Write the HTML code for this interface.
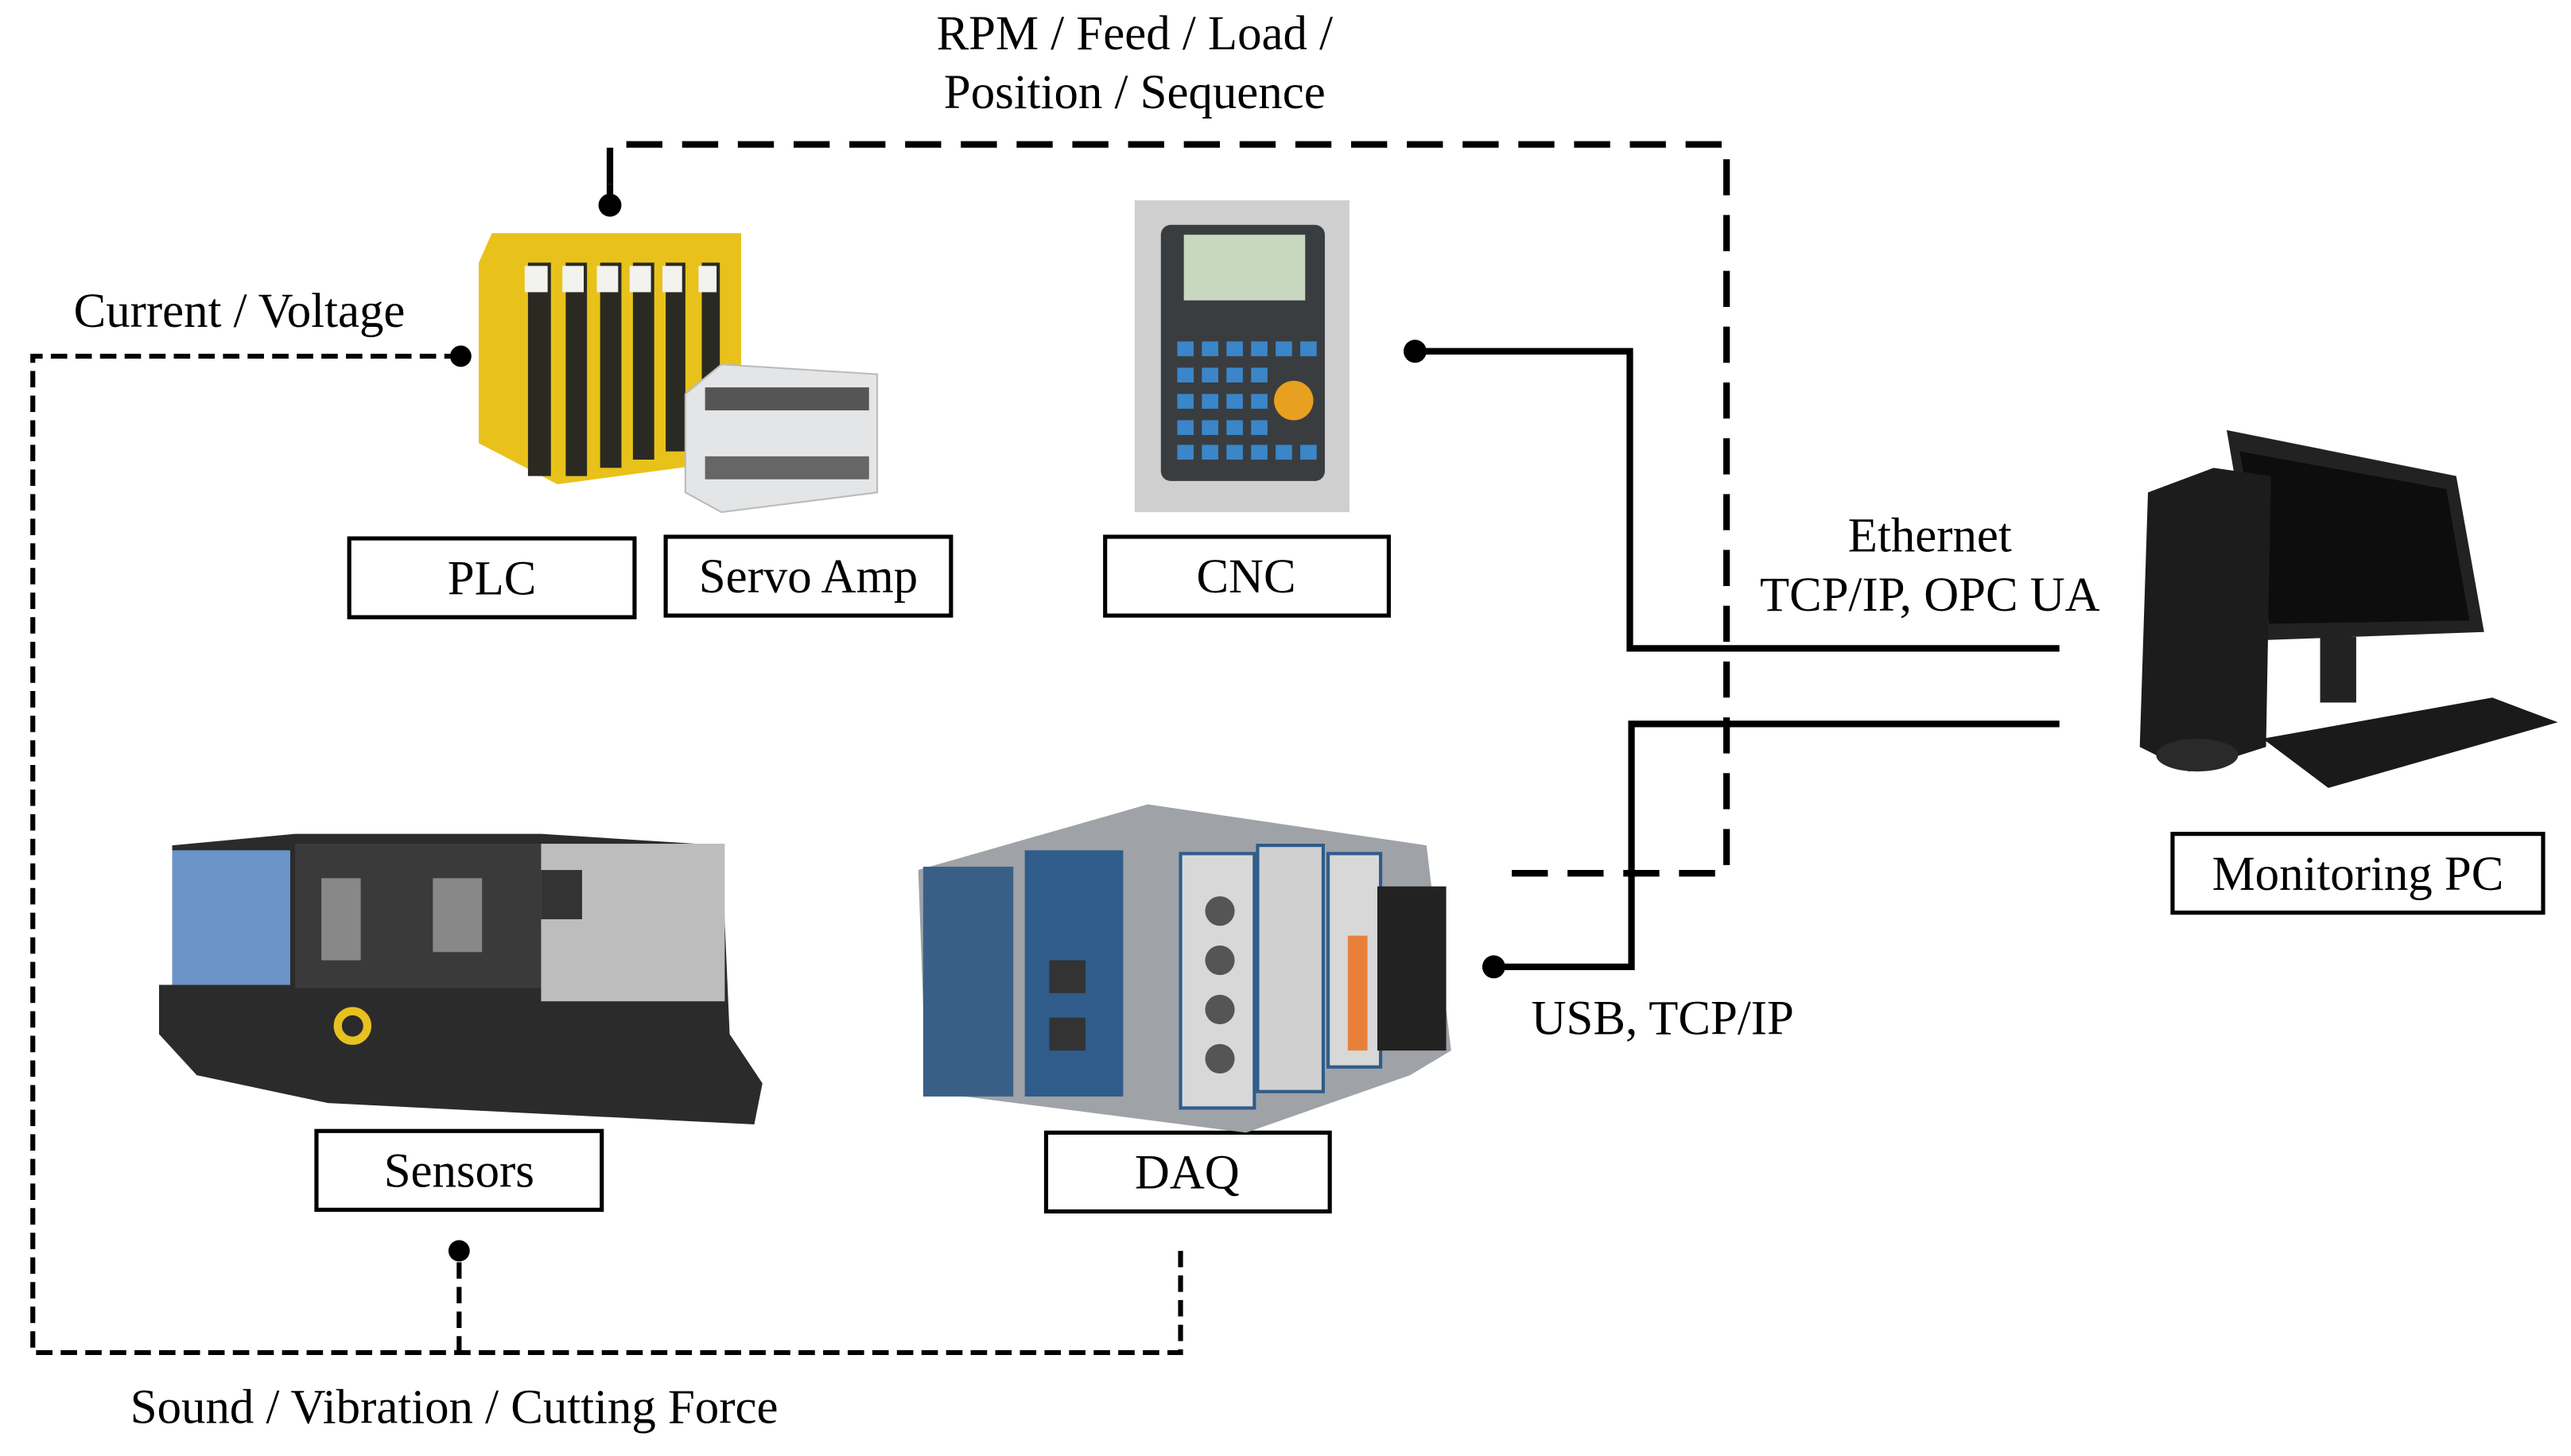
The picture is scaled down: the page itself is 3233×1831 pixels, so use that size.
<!DOCTYPE html>
<html><head><meta charset="utf-8"><style>
html,body{margin:0;padding:0;background:#fff;}
svg{display:block}
text{font-family:"Liberation Serif",serif;fill:#000}
</style></head><body>
<svg width="3233" height="1831" viewBox="0 0 1568 887" preserveAspectRatio="none" xmlns="http://www.w3.org/2000/svg">
<rect width="1568" height="887" fill="#fff"/>
<text x="692" y="30" font-size="29.5" text-anchor="middle">RPM / Feed / Load /</text>
<text x="692" y="66" font-size="29.5" text-anchor="middle">Position / Sequence</text>
<text x="146" y="199" font-size="29.5" text-anchor="middle">Current / Voltage</text>
<text x="277" y="867" font-size="29.5" text-anchor="middle">Sound / Vibration / Cutting Force</text>
<text x="1177" y="336" font-size="29.5" text-anchor="middle">Ethernet</text>
<text x="1177" y="372" font-size="29.5" text-anchor="middle">TCP/IP, OPC UA</text>
<text x="1014" y="630" font-size="29.5" text-anchor="middle">USB, TCP/IP</text>

<path d="M372 112 V88 H1053 V532 H918" fill="none" stroke="#000" stroke-width="4" stroke-dasharray="22 12"/>
<circle cx="372" cy="125" r="7"/>
<line x1="372" y1="112" x2="372" y2="125" stroke="#000" stroke-width="4"/>
<path d="M281 217 H20 V824 H720 V762" fill="none" stroke="#000" stroke-width="3" stroke-dasharray="10 5"/>
<path d="M280 824 V762" fill="none" stroke="#000" stroke-width="3" stroke-dasharray="10 5"/>
<circle cx="281" cy="217" r="6.5"/>
<circle cx="280" cy="762" r="6.5"/>
<path d="M863 214 H994 V395 H1256" fill="none" stroke="#000" stroke-width="4"/>
<circle cx="863" cy="214" r="7"/>
<path d="M911 589 H995 V441 H1256" fill="none" stroke="#000" stroke-width="4"/>
<circle cx="911" cy="589" r="7"/>

<g fill="#fff" stroke="#000" stroke-width="2.5">
<rect x="213" y="328" width="174" height="48"/>
<rect x="406" y="327" width="174" height="48"/>
<rect x="674" y="327" width="173" height="48"/>
<rect x="193" y="689" width="174" height="48"/>
<rect x="638" y="690" width="173" height="48"/>
<rect x="1325" y="508" width="226" height="48"/>
</g>
<g font-size="29.5" text-anchor="middle">
<text x="300" y="362">PLC</text>
<text x="493" y="361">Servo Amp</text>
<text x="760" y="361">CNC</text>
<text x="280" y="723">Sensors</text>
<text x="724" y="724">DAQ</text>
<text x="1438" y="542">Monitoring PC</text>
</g>

<g>
<polygon points="292,160 300,142 452,142 452,280 340,295 292,270" fill="#e8c21a"/>
<g fill="#2a2a22">
<rect x="322" y="160" width="14" height="130"/><rect x="345" y="160" width="13" height="130"/>
<rect x="366" y="160" width="13" height="125"/><rect x="386" y="160" width="13" height="120"/>
<rect x="406" y="160" width="12" height="115"/><rect x="428" y="160" width="11" height="110"/>
</g>
<g fill="#f2f2ee"><rect x="320" y="162" width="14" height="16"/><rect x="343" y="162" width="13" height="16"/><rect x="364" y="162" width="13" height="16"/><rect x="384" y="162" width="13" height="16"/><rect x="404" y="162" width="12" height="16"/><rect x="426" y="162" width="11" height="16"/></g>
<polygon points="418,240 440,222 535,228 535,300 440,312 418,300" fill="#e4e5e6" stroke="#bbb"/>
<rect x="430" y="236" width="100" height="14" fill="#555"/>
<rect x="430" y="278" width="100" height="14" fill="#666"/>
</g>

<rect x="692" y="122" width="131" height="190" fill="#cfcfcf"/>
<rect x="708" y="137" width="100" height="156" rx="6" fill="#3a3d40"/>
<rect x="722" y="143" width="74" height="40" fill="#c8d8c0"/>
<g fill="#3a86c8">
<rect x="718" y="208" width="10" height="9"/><rect x="733" y="208" width="10" height="9"/><rect x="748" y="208" width="10" height="9"/><rect x="763" y="208" width="10" height="9"/><rect x="778" y="208" width="10" height="9"/><rect x="793" y="208" width="10" height="9"/>
<rect x="718" y="224" width="10" height="9"/><rect x="733" y="224" width="10" height="9"/><rect x="748" y="224" width="10" height="9"/><rect x="763" y="224" width="10" height="9"/>
<rect x="718" y="240" width="10" height="9"/><rect x="733" y="240" width="10" height="9"/><rect x="748" y="240" width="10" height="9"/><rect x="763" y="240" width="10" height="9"/>
<rect x="718" y="256" width="10" height="9"/><rect x="733" y="256" width="10" height="9"/><rect x="748" y="256" width="10" height="9"/><rect x="763" y="256" width="10" height="9"/>
<rect x="718" y="271" width="10" height="9"/><rect x="733" y="271" width="10" height="9"/><rect x="748" y="271" width="10" height="9"/><rect x="763" y="271" width="10" height="9"/><rect x="778" y="271" width="10" height="9"/><rect x="793" y="271" width="10" height="9"/>
</g>
<circle cx="789" cy="244" r="12" fill="#e8a020"/>

<polygon points="105,515 180,508 330,508 440,515 445,630 465,660 460,685 200,672 120,655 97,630 97,600 105,600" fill="#2b2b2b"/>
<rect x="105" y="518" width="72" height="82" fill="#6a94c8"/>
<rect x="180" y="514" width="150" height="88" fill="#3a3a3a"/>
<rect x="330" y="514" width="112" height="96" fill="#bdbdbd"/>
<rect x="196" y="535" width="24" height="50" fill="#888"/>
<rect x="264" y="535" width="30" height="45" fill="#888"/>
<rect x="330" y="530" width="25" height="30" fill="#333"/>
<circle cx="215" cy="625" r="9" fill="none" stroke="#e8c020" stroke-width="5"/>

<polygon points="560,530 700,490 870,515 885,640 860,655 760,690 565,665" fill="#9fa3a7"/>
<rect x="563" y="528" width="55" height="140" fill="#3a5f86"/>
<rect x="625" y="518" width="60" height="150" fill="#2f5c8a"/>
<rect x="720" y="520" width="45" height="155" fill="#d8d8d8" stroke="#2f5c8a" stroke-width="2"/>
<rect x="767" y="515" width="40" height="150" fill="#d0d0d0" stroke="#2f5c8a" stroke-width="2"/>
<rect x="810" y="520" width="32" height="130" fill="#d8d8d8" stroke="#2f5c8a" stroke-width="2"/>
<rect x="840" y="540" width="42" height="100" fill="#222"/>
<rect x="822" y="570" width="12" height="70" fill="#e8803a"/>
<g fill="#555"><circle cx="744" cy="555" r="9"/><circle cx="744" cy="585" r="9"/><circle cx="744" cy="615" r="9"/><circle cx="744" cy="645" r="9"/></g>
<rect x="640" y="585" width="22" height="20" fill="#333"/><rect x="640" y="620" width="22" height="20" fill="#333"/>

<polygon points="1358,262 1498,290 1515,385 1380,390" fill="#222"/>
<polygon points="1366,275 1492,298 1506,378 1384,380" fill="#0d0d0d"/>
<polygon points="1310,300 1350,285 1385,290 1382,455 1335,470 1305,455" fill="#1c1c1c"/>
<rect x="1415" y="388" width="22" height="40" fill="#222"/>
<polygon points="1380,450 1520,425 1560,440 1420,480" fill="#1a1a1a"/>
<ellipse cx="1340" cy="460" rx="25" ry="10" fill="#2a2a2a"/>
</svg>
</body></html>
